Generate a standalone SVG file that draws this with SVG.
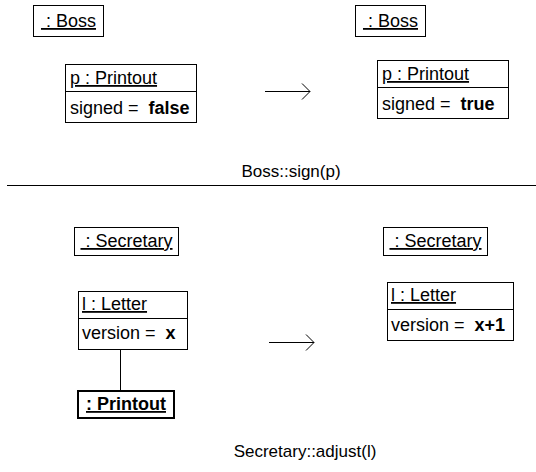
<svg xmlns="http://www.w3.org/2000/svg" width="536" height="472" viewBox="0 0 536 472">
<style>
text { font-family: "Liberation Sans", Arial, sans-serif; font-size: 18px; fill: #000; }
.lbl { font-size: 17px; }
.u { text-decoration: underline; }
.b { font-weight: bold; }
.box { fill: #fff; stroke: #000; stroke-width: 1; }
.bold { fill: #fff; stroke: #000; stroke-width: 2; }
.ln { stroke: #000; stroke-width: 1; fill: none; }
</style>
<rect width="536" height="472" fill="#fff"/>
<g id="boss1">
<rect class="box" x="33.5" y="5.5" width="70" height="31"/>
<text x="68.5" y="27" text-anchor="middle" class="u" xml:space="preserve"> : Boss</text>
</g>
<g id="printout1">
<rect class="box" x="65.5" y="64.5" width="131" height="58"/>
<line class="ln" x1="65.5" y1="91.5" x2="196.5" y2="91.5"/>
<text x="70" y="84" class="u">p : Printout</text>
<text x="70" y="114" xml:space="preserve">signed =  <tspan class="b">false</tspan></text>
</g>
<g id="boss2">
<rect class="box" x="355.5" y="5.5" width="70" height="31"/>
<text x="390.5" y="27" text-anchor="middle" class="u" xml:space="preserve"> : Boss</text>
</g>
<g id="printout2">
<rect class="box" x="377.5" y="60.5" width="131" height="58"/>
<line class="ln" x1="377.5" y1="87.5" x2="508.5" y2="87.5"/>
<text x="382" y="80" class="u">p : Printout</text>
<text x="382" y="110" xml:space="preserve">signed =  <tspan class="b">true</tspan></text>
</g>
<text id="label1" class="lbl" x="291" y="177" text-anchor="middle">Boss::sign(p)</text>
<line id="separator" class="ln" x1="7" y1="185.5" x2="536" y2="185.5"/>
<g id="secretary1">
<rect class="box" x="74.5" y="227.5" width="104" height="28"/>
<text x="126.5" y="247" text-anchor="middle" class="u" xml:space="preserve"> : Secretary</text>
</g>
<g id="letter1">
<rect class="box" x="78.5" y="291.5" width="109" height="58"/>
<line class="ln" x1="78.5" y1="318.5" x2="187.5" y2="318.5"/>
<text x="82" y="310" class="u">l : Letter</text>
<text x="82" y="339" xml:space="preserve">version =  <tspan class="b">x</tspan></text>
</g>
<g id="printout3">
<rect class="bold" x="78" y="391" width="96" height="27"/>
<text x="126" y="410" text-anchor="middle" class="u b">: Printout</text>
</g>
<g id="secretary2">
<rect class="box" x="383.5" y="227.5" width="104" height="28"/>
<text x="435.5" y="247" text-anchor="middle" class="u" xml:space="preserve"> : Secretary</text>
</g>
<g id="letter2">
<rect class="box" x="387.5" y="282.5" width="126" height="58"/>
<line class="ln" x1="387.5" y1="309.5" x2="513.5" y2="309.5"/>
<text x="391" y="301" class="u">l : Letter</text>
<text x="391" y="331" xml:space="preserve">version =  <tspan class="b">x+1</tspan></text>
</g>
<text id="label2" class="lbl" x="305" y="457" text-anchor="middle">Secretary::adjust(l)</text>
<g id="connectors">
<line class="ln" x1="120.5" y1="350" x2="120.5" y2="391"/>
<line class="ln" x1="265" y1="91.5" x2="310" y2="91.5"/>
<polyline class="ln" points="302,83.5 310,91.5 302,99.5"/>
<line class="ln" x1="269" y1="342.5" x2="314" y2="342.5"/>
<polyline class="ln" points="306,334.5 314,342.5 306,350.5"/>
</g>
</svg>
